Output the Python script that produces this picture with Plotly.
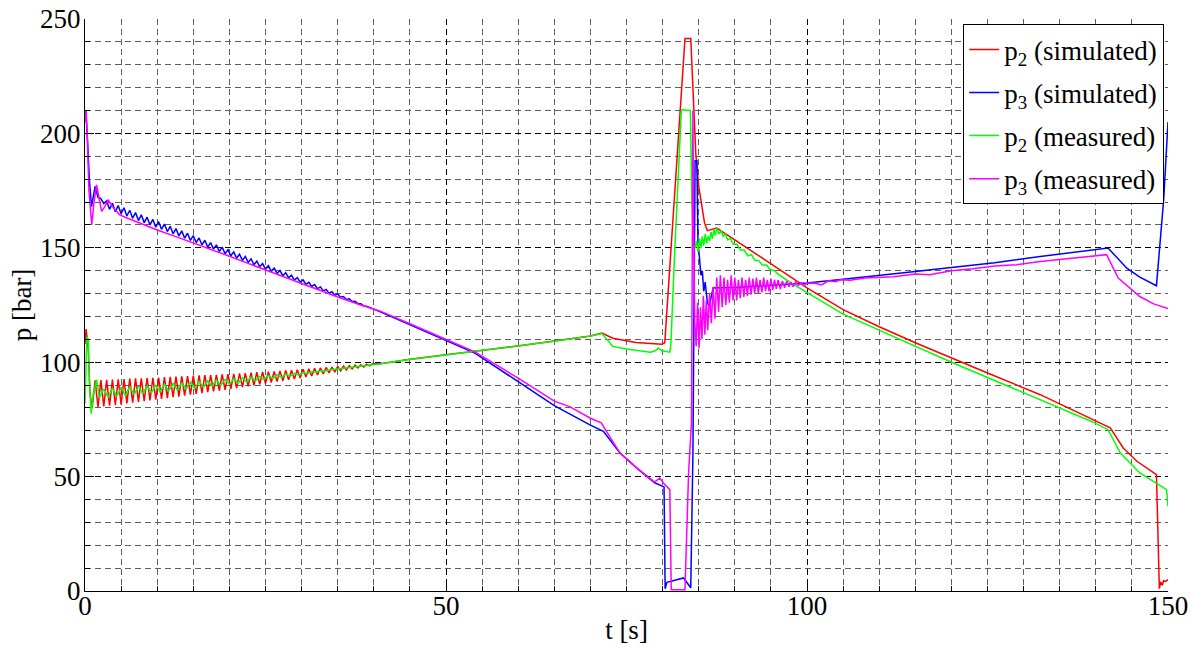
import plotly.graph_objects as go

# ---------------- data ----------------
# p2 simulated (red)
red_t = [0.0, 0.15, 0.46, 0.7,
         1.0, 1.4, 1.8, 2.2, 2.6, 3.0, 3.4, 3.8, 4.2, 4.6, 5.0, 5.4, 5.8, 6.2, 6.6, 7.0,
         7.4, 7.8, 8.2, 8.6, 9.0, 9.4, 9.8, 10.2, 10.6, 11.0, 11.4, 11.8, 12.2, 12.6, 13.0,
         13.4, 13.8, 14.2, 14.6, 15.0, 15.4, 15.8, 16.2, 16.6, 17.0, 17.4, 17.8, 18.2, 18.6,
         19.0, 19.4, 19.8, 20.2, 20.6, 21.0, 21.4, 21.8, 22.2, 22.6, 23.0, 23.4, 23.8, 24.2,
         24.6, 25.0, 25.4, 25.8, 26.2, 26.6, 27.0, 27.4, 27.8, 28.2, 28.6, 29.0, 29.4, 29.8,
         30.2, 30.6, 31.0, 31.4, 31.8, 32.2, 32.6, 33.0, 33.4, 33.8, 34.2, 34.6, 35.0, 35.4,
         35.8, 36.2, 36.6, 37.0, 37.4, 37.8, 38.2, 38.6, 39.0, 39.4, 39.8,
         40.9, 45, 50, 54, 60, 65, 70, 71.6, 73.1, 76.3, 79.0, 79.9, 80.3, 83.1, 83.9,
         84.6, 85.0, 85.4, 85.8, 86.2, 86.8, 87.5, 90, 95, 98, 100, 105, 110, 115, 120,
         125, 132.3, 137, 142, 143.8, 145.7, 148.4, 148.6, 148.8, 149.0, 149.2, 149.4,
         149.7, 150]
red_p = [108, 114.5, 105, 86,
         80.0, 92.1, 80.3, 92.2, 80.7, 92.3, 81.0, 92.4, 81.3, 92.5, 81.6, 92.6, 82.0, 92.8,
         82.3, 92.9, 82.6, 93.0, 83.0, 93.1, 83.3, 93.2, 83.6, 93.3, 84.0, 93.5, 84.3, 93.6,
         84.7, 93.7, 85.0, 93.8, 85.4, 93.9, 85.8, 94.1, 86.1, 94.2, 86.5, 94.3, 86.9, 94.4,
         87.2, 94.5, 87.6, 94.7, 87.9, 94.8, 88.3, 94.9, 88.7, 95.1, 89.1, 95.2, 89.5, 95.4,
         89.9, 95.6, 90.3, 95.7, 90.7, 95.9, 91.1, 96.0, 91.5, 96.2, 91.9, 96.4, 92.3, 96.5,
         92.7, 96.7, 93.1, 96.9, 93.5, 97.1, 94.0, 97.3, 94.4, 97.5, 94.9, 97.7, 95.3, 97.9,
         95.7, 98.1, 96.2, 98.3, 96.6, 98.5, 97.1, 98.7, 97.5, 98.9, 97.9, 99.1, 98.4, 99.3,
         99.3, 101.3, 103.3, 104.8, 107.1, 109.3, 111.5, 112.7, 110.5, 108.6, 108.0, 107.8,
         108.5, 241.5, 241.5,
         191, 177, 168, 161, 157.5, 158, 158.6, 153.5, 143, 136.5, 132.5, 123, 115.5, 108.5,
         101.8, 95.3, 85.8, 78.8, 71.3, 62.5, 56.7, 50.9, 30, 1, 4, 2.5, 4.5, 4.2, 5]

# p3 simulated (blue)
blue_t = [0.0, 0.1, 0.3, 0.6, 0.9, 1.15, 1.4, 1.8, 2.2, 2.6,
          3.0, 3.4, 3.8, 4.2, 4.6, 5.0, 5.4, 5.8, 6.2, 6.6, 7.0, 7.4, 7.8, 8.2, 8.6, 9.0,
          9.4, 9.8, 10.2, 10.6, 11.0, 11.4, 11.8, 12.2, 12.6, 13.0, 13.4, 13.8, 14.2, 14.6,
          15.0, 15.4, 15.8, 16.2, 16.6, 17.0, 17.4, 17.8, 18.2, 18.6, 19.0, 19.4, 19.8, 20.2,
          20.6, 21.0, 21.4, 21.8, 22.2, 22.6, 23.0, 23.4, 23.8, 24.2, 24.6, 25.0, 25.4, 25.8,
          26.2, 26.6, 27.0, 27.4, 27.8, 28.2, 28.6, 29.0, 29.4, 29.8, 30.2, 30.6, 31.0, 31.4,
          31.8, 32.2, 32.6, 33.0, 33.4, 33.8, 34.2, 34.6, 35.0, 35.4, 35.8, 36.2, 36.6, 37.0,
          37.4, 37.8, 38.2, 38.6, 39.0,
          40.9, 45, 50, 54, 60, 65, 70, 71.8, 74.1, 76.4, 78.9, 80.2, 80.35, 80.6, 82.9,
          83.4, 83.9, 84.2, 84.5, 84.75, 84.9, 85.1, 85.3, 85.5, 85.7, 85.9, 86.2, 86.45,
          86.7, 87.0, 88, 90, 95, 100, 105, 110, 115, 120, 126, 132.3, 137, 141.7, 144.3,
          146.1, 148.4, 149.4, 150]
blue_p = [206, 210, 200, 180, 168, 172, 176.8, 172, 171.5, 169.3,
          170.5, 166.8, 169.5, 165.8, 168.5, 164.9, 167.5, 163.9, 166.4, 162.9, 165.4, 161.9,
          164.4, 161.0, 163.4, 160.0, 162.4, 159.0, 161.4, 158.1, 160.4, 157.1, 159.4, 156.1,
          158.4, 155.2, 157.4, 154.2, 156.4, 153.2, 155.3, 152.3, 154.3, 151.3, 153.3, 150.3,
          152.3, 149.4, 151.3, 148.4, 150.3, 147.4, 149.2, 146.5, 148.2, 145.5, 147.2, 144.5,
          146.2, 143.6, 145.2, 142.6, 144.2, 141.7, 143.1, 140.7, 142.2, 139.7, 141.1, 138.8,
          140.1, 137.8, 139.1, 136.9, 138.0, 135.9, 137.0, 135.0, 136.0, 134.0, 134.9, 133.1,
          133.9, 132.1, 132.9, 131.2, 131.8, 130.2, 130.8, 129.3, 129.8, 128.4, 128.7, 127.4,
          127.7, 126.5, 126.6, 125.6, 125.6, 124.6, 124.5,
          122, 116.4, 109.8, 104, 91.5, 81, 72.5, 69.8, 60.3, 53.8, 47.3, 45.5, 1, 3.8, 5.7,
          3.6, 1.4, 60, 188, 188, 152, 146, 138, 140, 131, 135, 126, 124.5,
          128, 132.4, 132.5, 132.7, 133.6, 134.6, 136.2, 137.8, 139.6, 141.4, 143.5, 146.2,
          148, 149.9, 141.1, 137.2, 133.4, 171, 205]

# p2 measured (green)
green_t = [0.0, 0.25, 0.45, 0.6, 0.85, 1.15, 1.6, 2.0,
           2.6, 3.2, 3.8, 4.4, 5.0, 5.6, 6.2, 6.8, 7.4, 8.0, 8.6, 9.2, 9.8, 10.4, 11.0, 11.6,
           12.2, 12.8, 13.4, 14.0, 14.6, 15.2, 15.8, 16.4, 17.0, 17.6, 18.2, 18.8, 19.4, 20.0,
           20.6, 21.2, 21.8, 22.4, 23.0, 23.6, 24.2, 24.8, 25.4, 26.0, 26.6, 27.2, 27.8, 28.4,
           29.0, 29.6, 30.2, 30.8, 31.4, 32.0, 32.6, 33.2, 33.8,
           35, 40.9, 45, 50, 54, 60, 65, 70, 71.6, 73.1, 75, 78.3, 79.0, 79.4, 79.9, 81.0,
           81.15, 81.7, 82.6, 83.85, 84.05, 84.3,
           84.5, 84.7, 84.9, 85.1, 85.3, 85.5, 85.7, 85.9, 86.1, 86.3, 86.5, 86.7, 86.9, 87.1,
           87.3, 87.5, 87.8, 88.1, 88.4, 88.7, 89.0, 89.4, 89.8, 90.3, 90.8, 91.3, 91.8, 92.3,
           92.8, 93.3, 93.8, 94.4, 94.9, 95.5, 96, 97.6, 100, 102.5, 105, 107.5, 110, 112.5,
           115, 117.5, 120, 125, 128, 132.3, 135, 137, 139.5, 141.7, 143.4, 146.1, 148.4,
           149.8, 150]
green_p = [82, 111, 110, 92, 77.5, 86, 92.4, 84.5,
           88.4, 84.6, 88.7, 85.0, 89.0, 85.4, 89.3, 85.8, 89.6, 86.2, 89.8, 86.6, 90.1, 87.0,
           90.4, 87.4, 90.7, 87.8, 91.0, 88.2, 91.3, 88.6, 91.6, 89.1, 91.9, 89.5, 92.2, 89.9,
           92.5, 90.3, 92.9, 90.8, 93.2, 91.3, 93.5, 91.9, 93.8, 92.4, 94.2, 92.9, 94.5, 93.4,
           94.8, 93.9, 95.1, 94.4, 95.5, 95.0, 95.9, 95.6, 96.2, 96.1, 96.6,
           97.0, 99.3, 101.2, 103.2, 104.6, 107.0, 109.2, 111.4, 112.5, 106.9, 105.8, 104.4,
           105.0, 106.2, 105.0, 104.4, 108, 150, 210.3, 210, 170, 149,
           150, 153, 148, 154, 150, 155, 151, 156, 152, 155, 153, 157, 154, 158,
           155.5, 158.6, 156, 157.5, 155, 156, 153.5, 154, 151.5, 151.5, 149, 149, 146.5, 147,
           144.5, 144.5, 142.5, 142.5, 140.5, 140, 138.5, 135, 130.5, 125.5, 121, 117.5, 114,
           110.2, 107, 103.3, 100, 93.3, 89.3, 83.6, 80.2, 77.5, 74, 70.5, 60.3, 51.6, 47.2,
           44.3, 37]

# p3 measured (magenta)
mag_t = [0.0, 0.15, 0.3, 0.55, 0.93, 1.25, 1.6, 1.95, 2.3, 2.75, 3.2, 3.8, 4.8, 6, 8.5,
         10, 12.5, 15, 17.5, 20, 22.5, 25, 27.5, 30, 32.5, 35, 38, 40.9, 45, 50, 54, 60, 65,
         67.2, 70, 71.5, 71.9, 74.1, 76.4, 78.9, 79.6, 80.3, 81.0, 81.2, 83.1, 83.6, 84.0,
         84.2, 84.3,
         84.45, 84.65, 84.85, 85.05, 85.25, 85.45, 85.65, 85.85, 86.05, 86.25, 86.5, 86.75,
         87.0, 87.25, 87.5, 87.75, 88.0, 88.25, 88.5, 88.75, 89.0, 89.25, 89.5, 89.75, 90.0,
         90.25, 90.5, 90.75, 91.0, 91.25, 91.5, 91.75, 92.0, 92.25, 92.5, 92.75, 93.0, 93.25,
         93.5, 93.75, 94.0, 94.25, 94.5, 94.75, 95.0, 95.25, 95.5, 95.75, 96.0, 96.3, 96.6,
         96.9, 97.2, 97.5, 97.8, 98.1, 98.4, 98.8, 99.2, 99.6, 100.0,
         101, 102, 103, 104, 104.6, 106, 108, 110, 112, 115, 117, 120, 123, 126, 129, 132.3,
         137, 141.5, 143.1, 146.1, 148, 150]
mag_p = [205, 210, 200, 175, 160, 170, 177.5, 171, 165.9, 168, 171, 168, 164.4, 162.8,
         159.6, 157.8, 155, 152.2, 149.2, 146.3, 143.3, 140.3, 137.3, 134.2, 131.3, 128.5,
         125.2, 122.3, 116.8, 110, 104.5, 93, 83, 80.5, 75.5, 73.5, 71.5, 60.3, 53.8, 47.6,
         49.4, 46.5, 44.3, 0.5, 0.5, 51.6, 73.6, 210, 160,
         118, 107, 126, 106, 124, 110, 129, 112, 127, 114, 130, 117,
         133, 119, 137, 122, 138, 124, 137, 125, 136, 126, 138, 127, 137,
         127, 136, 128, 137, 128.5, 136, 129, 137, 129.5, 136.5, 130, 137, 130,
         136, 130.5, 137, 131, 136, 131, 136.5, 131.5, 136, 132, 136, 132, 135.5,
         132.5, 135.5, 133, 135, 133, 135, 133.5, 134.8, 133.5, 134.5,
         134.6, 133.8, 135.6, 135.2, 136, 135.8, 136.8, 137.2, 137.4, 138.5, 138.2, 140,
         140.8, 142, 142.6, 144, 145.5, 147, 136.8, 128.7, 125.5, 123.5]

x_ticks = [0, 50, 100, 150]
y_ticks = [0, 50, 100, 150, 200, 250]
names = ["p<sub>2</sub> (simulated)", "p<sub>3</sub> (simulated)",
         "p<sub>2</sub> (measured)", "p<sub>3</sub> (measured)"]
colors = ["#ff0000", "#0000ff", "#00ff00", "#ff00ff"]

# ---------------- figure ----------------
FONT = "Liberation Serif, Times New Roman, serif"
fig = go.Figure()
series = [(red_t, red_p), (blue_t, blue_p), (green_t, green_p), (mag_t, mag_p)]
for i, ((tx, py), nm, col) in enumerate(zip(series, names, colors)):
    fig.add_trace(go.Scatter(x=tx, y=py, mode="lines", name=nm, legendgroup=f"g{i}",
                             line=dict(color=col, width=1.5)))

axis_common = dict(
    showline=True, linecolor="black", linewidth=1.2, mirror=False,
    ticks="inside", ticklen=9, tickcolor="black", tickwidth=1,
    showgrid=True, gridcolor="black", gridwidth=1, griddash="6px,4px",
    zeroline=False, automargin=False,
    tickfont=dict(family=FONT, size=27, color="black"),
)
fig.update_xaxes(range=[0, 150], tickvals=x_ticks, ticktext=[str(v) for v in x_ticks],
                 ticklabelstandoff=-10,
                 minor=dict(dtick=5, tick0=0, showgrid=True, gridcolor="#606060",
                            griddash="6px,4px", gridwidth=1, ticks="inside", ticklen=5,
                            tickcolor="black"),
                 title=dict(text="t [s]", font=dict(family=FONT, size=27, color="black"),
                            standoff=0),
                 **axis_common)
fig.update_yaxes(range=[0, 250], tickvals=y_ticks, ticktext=[str(v) for v in y_ticks],
                 ticklabelstandoff=-2,
                 minor=dict(dtick=10, tick0=0, showgrid=True, gridcolor="#606060",
                            griddash="6px,4px", gridwidth=1, ticks="inside", ticklen=5,
                            tickcolor="black"),
                 title=dict(text="p [bar]", font=dict(family=FONT, size=27, color="black"),
                            standoff=0),
                 **axis_common)

fig.update_layout(
    width=1192, height=651,
    margin=dict(l=85, r=24, t=19, b=60),
    paper_bgcolor="white", plot_bgcolor="white",
    font=dict(family=FONT, color="black"),
    legend=dict(x=0.9963, y=0.991, xanchor="right", yanchor="top",
                bgcolor="white", bordercolor="black", borderwidth=1.2,
                font=dict(family=FONT, size=27, color="black"),
                tracegroupgap=5, itemwidth=30),
    showlegend=True,
)

fig.write_html("out.html", config={"displayModeBar": False},
               post_script="document.body.style.margin='0';document.body.style.overflow='hidden';")
